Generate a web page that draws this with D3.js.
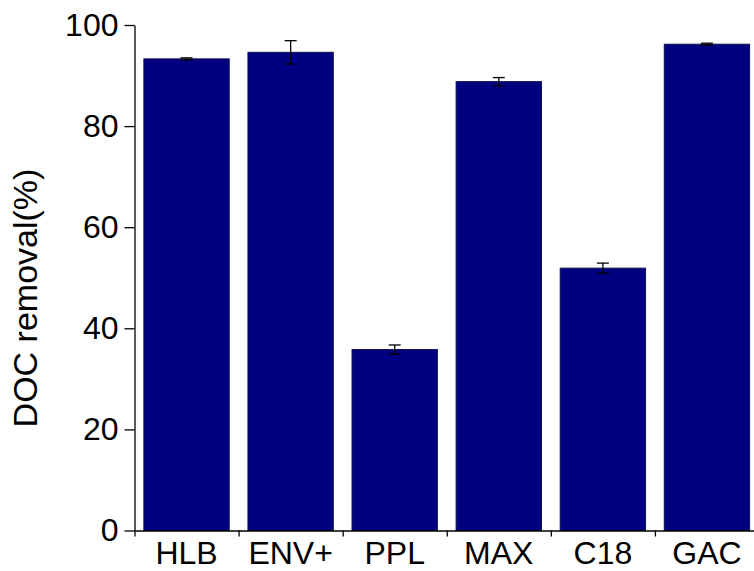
<!DOCTYPE html>
<html>
<head>
<meta charset="utf-8">
<script src="https://cdn.jsdelivr.net/npm/d3@7"></script>
<style>
  html, body { margin: 0; padding: 0; background: #fff; }
  svg { display: block; }
  .axis text { font-family: "Liberation Sans", Arial, sans-serif; font-size: 32px; fill: #000; }
  .axis path, .axis line { stroke: #000; stroke-width: 1.3px; }
</style>
</head>
<body>
<svg id="chart" width="754" height="571"></svg>
<script>
// Sorbent names and mean DOC removal with standard deviations
const categories = ["HLB", "ENV+", "PPL", "MAX", "C18", "GAC"];
const removal = [93.3, 94.6, 35.8, 88.8, 51.9, 96.2];
const errors = [0.2, 2.3, 0.9, 0.8, 1.0, 0.2];
const yTicks = [0, 20, 40, 60, 80, 100];

const svg = d3.select("#chart");
const plotLeft = 134.5, plotRight = 759, plotTop = 25, plotBottom = 530.5;

const x = d3.scaleBand()
  .domain(categories)
  .range([plotLeft, plotRight])
  .paddingInner(0.18)
  .paddingOuter(0.09);

const y = d3.scaleLinear().domain([0, 100]).range([plotBottom, plotTop]);

// Bars
svg.append("g").selectAll("rect")
  .data(categories)
  .join("rect")
  .attr("x", (d) => x(d))
  .attr("y", (d, i) => y(removal[i]))
  .attr("width", x.bandwidth())
  .attr("height", (d, i) => y(0) - y(removal[i]))
  .attr("fill", "#000080")
  .attr("stroke", "#10104a")
  .attr("stroke-width", 1);

// Error bars
const eb = svg.append("g").attr("stroke", "#000").attr("stroke-width", 1.3);
categories.forEach((c, i) => {
  const cx = x(c) + x.bandwidth() / 2;
  const hi = y(removal[i] + errors[i]);
  const lo = y(removal[i] - errors[i]);
  eb.append("line").attr("x1", cx).attr("x2", cx).attr("y1", hi).attr("y2", lo);
  eb.append("line").attr("x1", cx - 6).attr("x2", cx + 6).attr("y1", hi).attr("y2", hi);
  eb.append("line").attr("x1", cx - 6).attr("x2", cx + 6).attr("y1", lo).attr("y2", lo);
});

// Y axis
svg.append("g")
  .attr("class", "axis")
  .attr("transform", `translate(${plotLeft},0)`)
  .call(d3.axisLeft(y).tickValues(yTicks).tickSize(10).tickSizeOuter(0).tickPadding(6));

// X axis: ticks between categories
const xb = d3.scaleLinear().domain([0, categories.length]).range([plotLeft, plotRight]);
svg.append("g")
  .attr("class", "axis")
  .attr("transform", `translate(0,${plotBottom})`)
  .call(d3.axisBottom(xb).tickValues(d3.range(categories.length)).tickFormat("").tickSize(6).tickSizeOuter(0));

// X axis category labels
svg.append("g")
  .attr("class", "axis")
  .attr("transform", `translate(0,${plotBottom})`)
  .call(d3.axisBottom(x).tickSize(0).tickPadding(11))
  .call((g) => g.select(".domain").remove());

// Y axis title
svg.append("text")
  .attr("transform", "translate(37,298) rotate(-90)")
  .attr("text-anchor", "middle")
  .style("font-family", "'Liberation Sans', Arial, sans-serif")
  .style("font-size", "34px")
  .attr("fill", "#000")
  .text("DOC removal(%)");
</script>
</body>
</html>
